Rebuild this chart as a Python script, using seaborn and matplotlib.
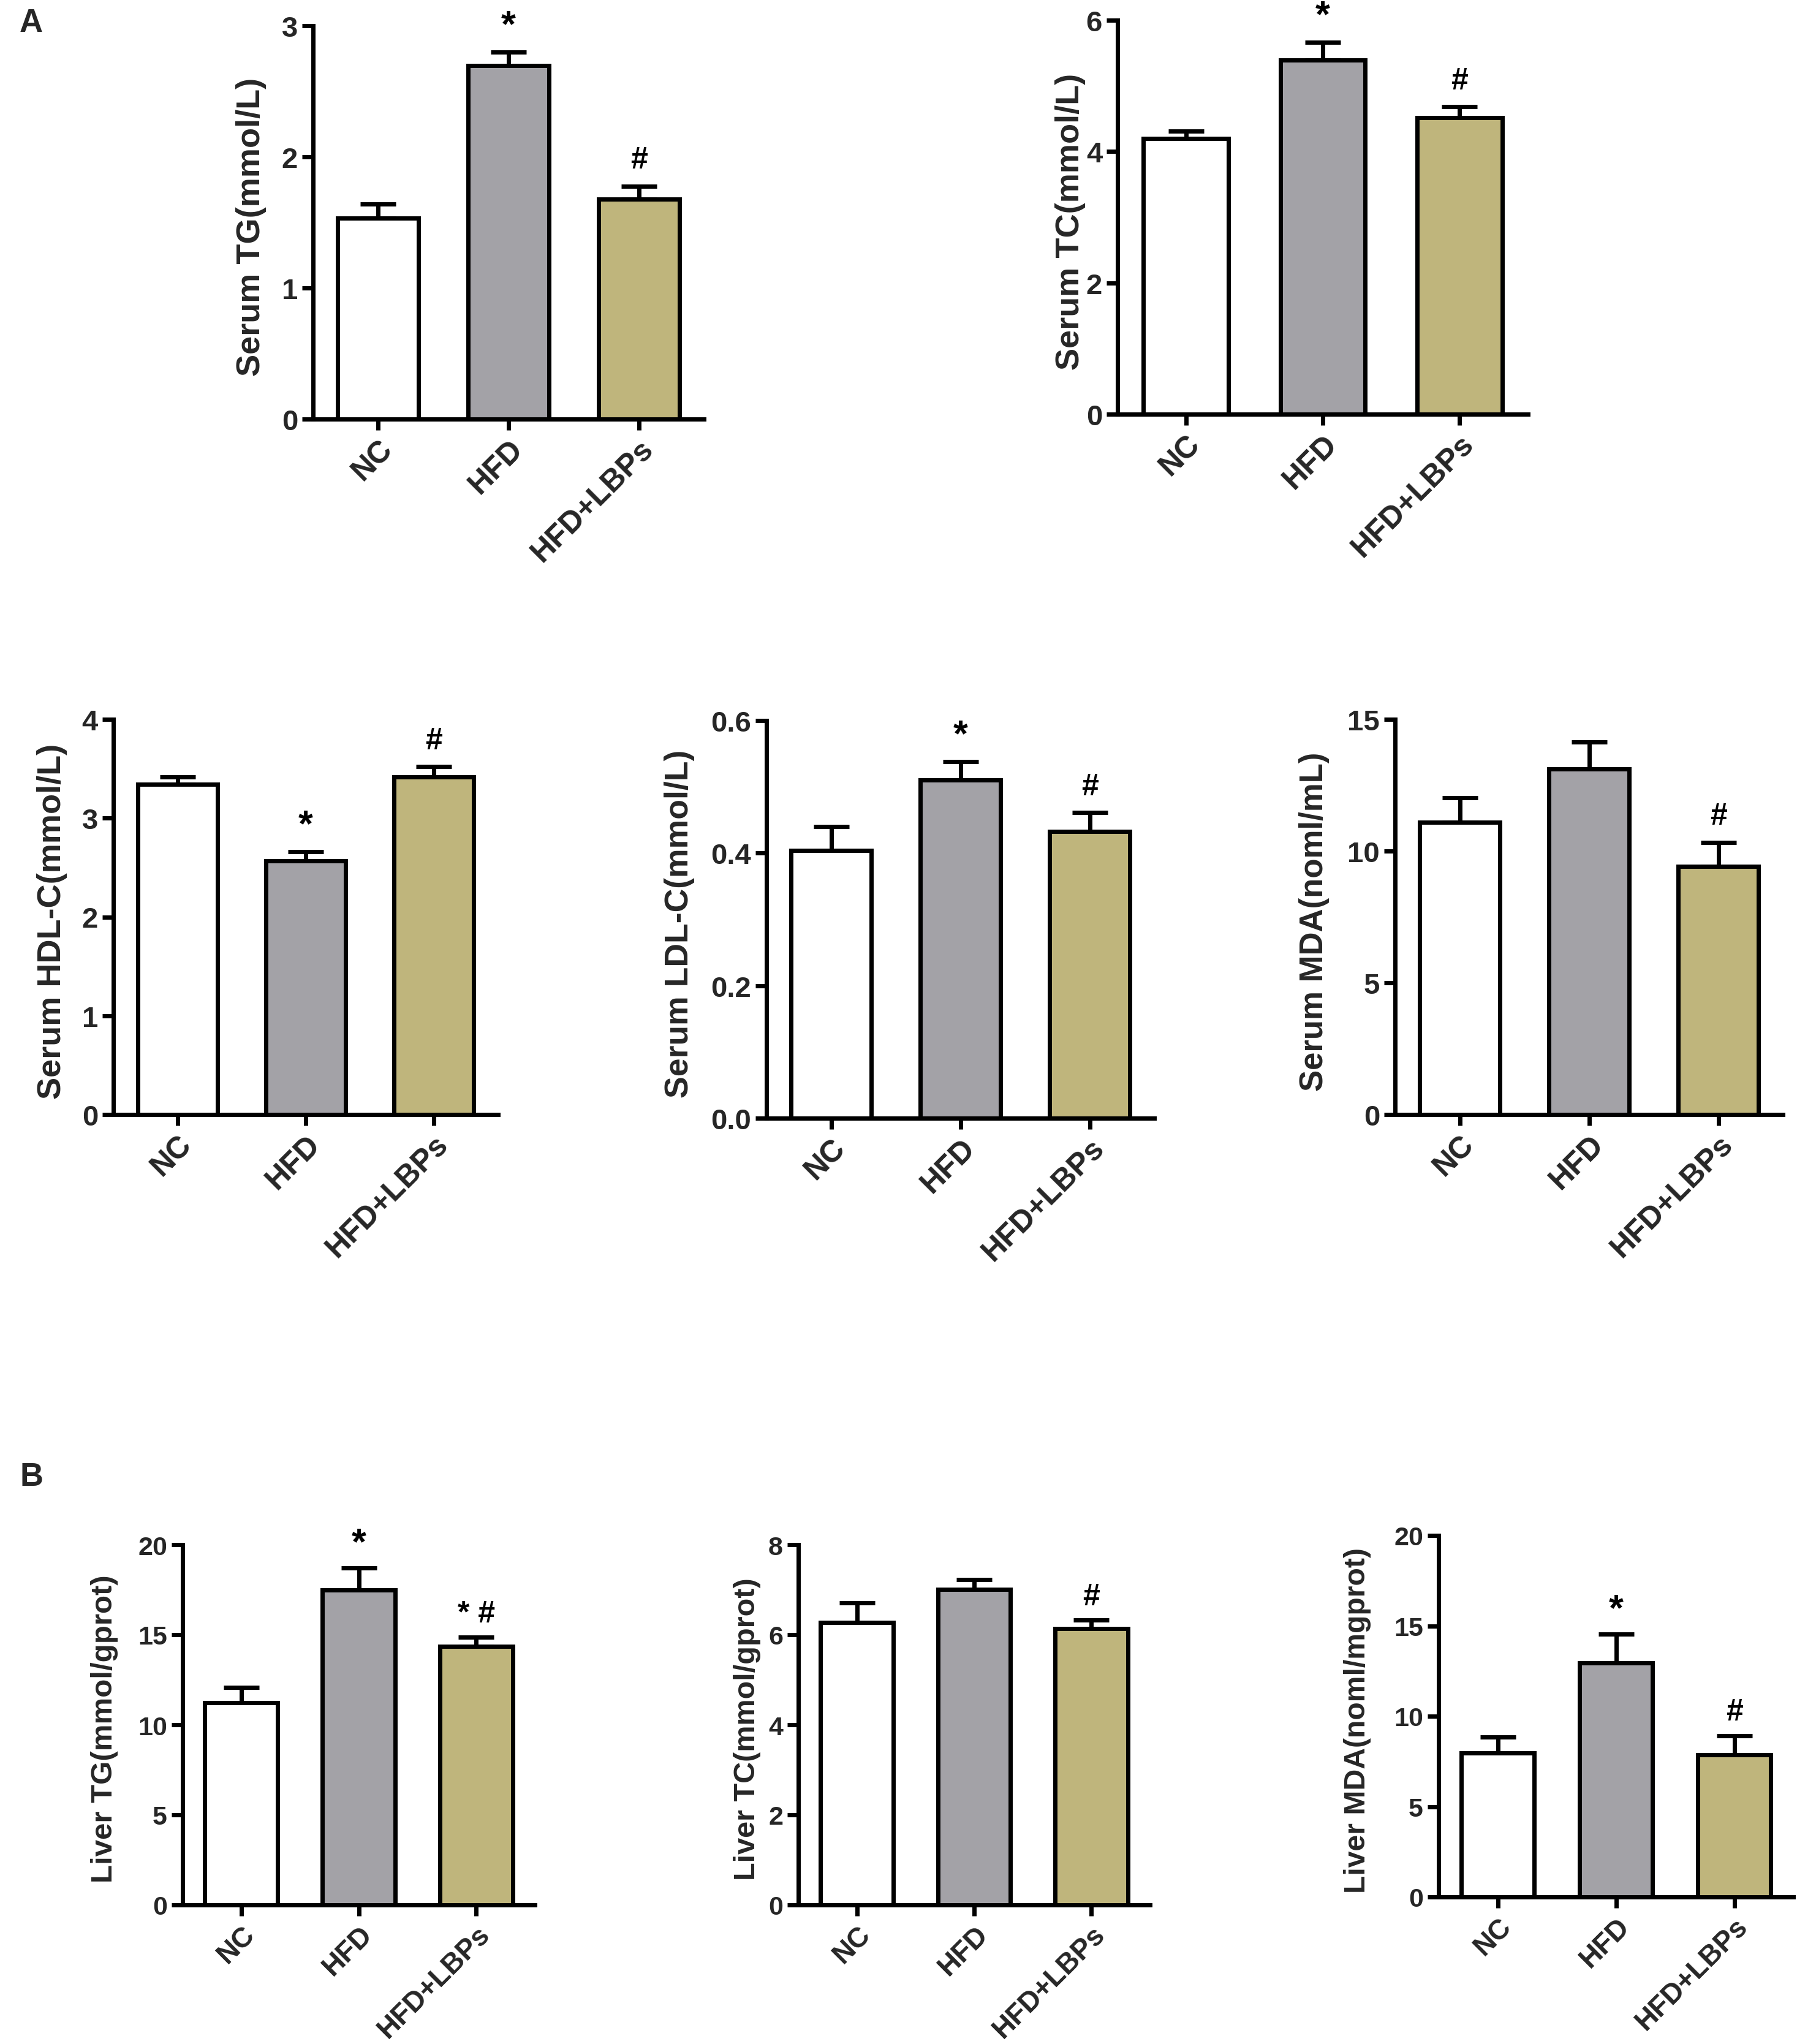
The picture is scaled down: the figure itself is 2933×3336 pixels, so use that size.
import matplotlib
matplotlib.use("Agg")
import matplotlib.pyplot as plt
import seaborn as sns
import pandas as pd

sns.set_theme(style="ticks")
plt.rcParams['font.family'] = ['Liberation Sans', 'DejaVu Sans']
plt.rcParams['font.weight'] = 'bold'

groups = ["NC", "HFD", "HFD+LBPs"]
bar_colors = ["#FFFFFF", "#A3A2A7", "#BFB57C"]

# Panel A (serum)
serum_tg = [1.535, 2.695, 1.678]
serum_tg_err = [0.105, 0.105, 0.10]
serum_tc = [4.20, 5.39, 4.52]
serum_tc_err = [0.11, 0.27, 0.16]
serum_hdl = [3.34, 2.57, 3.42]
serum_hdl_err = [0.08, 0.09, 0.10]
serum_ldl = [0.404, 0.510, 0.433]
serum_ldl_err = [0.036, 0.028, 0.028]
serum_mda = [11.10, 13.12, 9.41]
serum_mda_err = [0.93, 1.03, 0.92]

# Panel B (liver)
liver_tg = [11.24, 17.47, 14.36]
liver_tg_err = [0.83, 1.24, 0.49]
liver_tc = [6.27, 7.01, 6.14]
liver_tc_err = [0.44, 0.21, 0.18]
liver_mda = [7.98, 12.95, 7.87]
liver_mda_err = [0.86, 1.60, 1.05]

# significance marks
marks_serum_tg = ["", "*", "#"]
marks_serum_tc = ["", "*", "#"]
marks_serum_hdl = ["", "*", "#"]
marks_serum_ldl = ["", "*", "#"]
marks_serum_mda = ["", "", "#"]
marks_liver_tg = ["", "*", "* #"]
marks_liver_tc = ["", "", "#"]
marks_liver_mda = ["", "*", "#"]

W, H = 2933, 3337
fig = plt.figure(figsize=(W / 100, H / 100), dpi=100)


def rect(l, t, r, b):
    return [l / W, 1 - b / H, (r - l) / W, (b - t) / H]


# (rect, values, errors, marks, ylabel, yticks, yticklabels,
#  xtick fs, ytick fs, ylabel fs, ylabel x, ylabel y)
panels = [
    (rect(511, 43, 1149, 685), serum_tg, serum_tg_err, marks_serum_tg, "Serum TG(mmol/L)", [0, 1, 2, 3], ["0", "1", "2", "3"], 36, 34, 39, -0.1585, 0.49),
    (rect(1824, 34, 2494, 677), serum_tc, serum_tc_err, marks_serum_tc, "Serum TC(mmol/L)", [0, 2, 4, 6], ["0", "2", "4", "6"], 36, 34, 39, -0.1143, 0.49),
    (rect(185, 1175, 813, 1820), serum_hdl, serum_hdl_err, marks_serum_hdl, "Serum HDL-C(mmol/L)", [0, 1, 2, 3, 4], ["0", "1", "2", "3", "4"], 36, 34, 39, -0.159, 0.49),
    (rect(1251, 1177, 1884, 1826), serum_ldl, serum_ldl_err, marks_serum_ldl, "Serum LDL-C(mmol/L)", [0, 0.2, 0.4, 0.6], ["0.0", "0.2", "0.4", "0.6"], 36, 34, 38.5, -0.2245, 0.49),
    (rect(2277, 1175, 2910, 1820), serum_mda, serum_mda_err, marks_serum_mda, "Serum MDA(noml/mL)", [0, 5, 10, 15], ["0", "5", "10", "15"], 36, 34, 38, -0.208, 0.49),
    (rect(298, 2522, 873, 3110), liver_tg, liver_tg_err, marks_liver_tg, "Liver TG(mmol/gprot)", [0, 5, 10, 15, 20], ["0", "5", "10", "15", "20"], 33, 31, 35.5, -0.222, 0.49),
    (rect(1303, 2522, 1877, 3110), liver_tc, liver_tc_err, marks_liver_tc, "Liver TC(mmol/gprot)", [0, 2, 4, 6, 8], ["0", "2", "4", "6", "8"], 33, 31, 35, -0.145, 0.49),
    (rect(2348, 2507, 2927, 3097), liver_mda, liver_mda_err, marks_liver_mda, "Liver MDA(noml/mgprot)", [0, 5, 10, 15, 20], ["0", "5", "10", "15", "20"], 33, 31, 34.7, -0.2285, 0.49),
]

LW = 5.0
for pos, vals, errs, marks, ylabel, yticks, yticklabels, xfs, yfs, lfs, lx, ly in panels:
    ax = fig.add_axes(pos)
    df = pd.DataFrame({"group": groups, "value": vals})
    sns.barplot(data=df, x="group", y="value", hue="group", order=groups,
                hue_order=groups, palette=bar_colors, width=0.62,
                saturation=1, edgecolor="black", linewidth=LW,
                errorbar=None, legend=False, ax=ax, zorder=3)
    xs = list(range(len(groups)))
    ax.errorbar(xs, vals, yerr=[[0] * len(errs), errs], fmt="none",
                ecolor="black", elinewidth=LW, capsize=21, capthick=LW,
                zorder=2)
    ymax = yticks[-1]
    for x, v, e, m in zip(xs, vals, errs, marks):
        if m:
            if m == "*":
                off, fs = 0.066, 44
            else:
                off, fs = 0.066, 36
            ax.text(x, v + e + off * ymax, m, ha="center", va="center",
                    fontsize=fs, fontweight="bold", color="black",
                    clip_on=False)
    ax.set_xlim(-0.5, 2.5)
    ax.set_ylim(0, ymax)
    ax.set_yticks(yticks)
    ax.set_yticklabels(yticklabels, fontsize=yfs, fontweight="bold")
    ax.set_xticks(xs)
    ax.set_xticklabels(groups, fontsize=xfs, fontweight="bold", rotation=45,
                       ha="right", rotation_mode="anchor")
    ax.set_xlabel("")
    ax.set_ylabel(ylabel, fontsize=lfs, fontweight="bold")
    ax.yaxis.set_label_coords(lx, ly)
    ax.yaxis.label.set_va("center")
    for s in ["top", "right"]:
        ax.spines[s].set_visible(False)
    for s in ["left", "bottom"]:
        ax.spines[s].set_linewidth(LW)
        ax.spines[s].set_color("black")
    ax.tick_params(axis="both", length=13, width=LW, color="black", pad=5)
    ax.patch.set_alpha(0)

fig.text(32 / W, 1 - 38 / H, "A", fontsize=38, fontweight="bold", va="center", ha="left")
fig.text(32 / W, 1 - 2411 / H, "B", fontsize=38, fontweight="bold", va="center", ha="left")

fig.savefig("out.png", dpi=100, facecolor="white")
